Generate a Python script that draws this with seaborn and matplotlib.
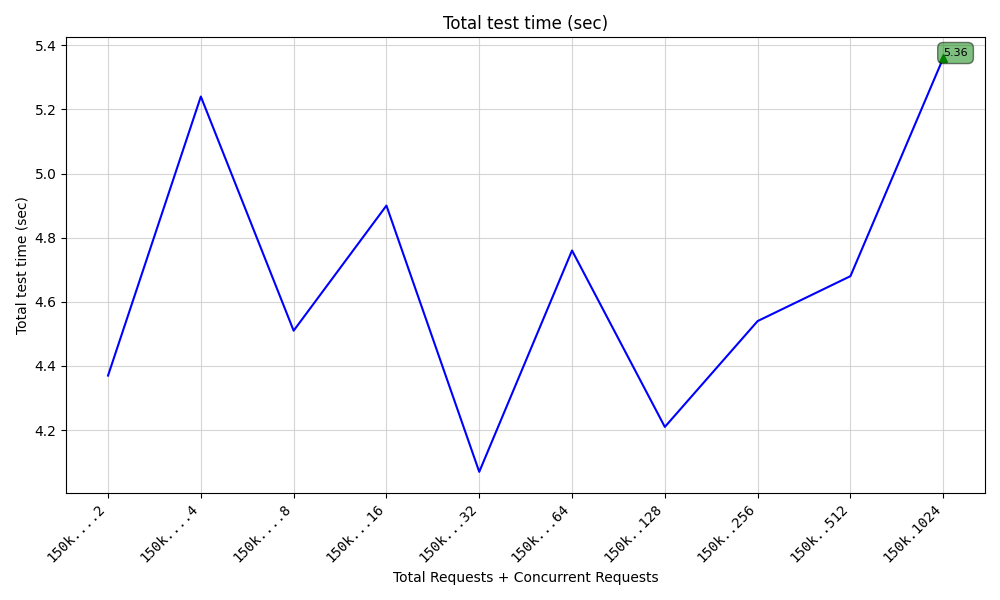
import matplotlib
matplotlib.use('Agg')
import matplotlib.pyplot as plt
import seaborn as sns
import pandas as pd

# 데이터
labels = ['150k....2', '150k....4', '150k....8', '150k...16', '150k...32',
          '150k...64', '150k..128', '150k..256', '150k..512', '150k.1024']
total_time = [4.37, 5.24, 4.51, 4.90, 4.07, 4.76, 4.21, 4.54, 4.68, 5.36]

df = pd.DataFrame({'pos': range(len(labels)), 'time': total_time})

fig, ax = plt.subplots(figsize=(10, 6), dpi=100)

sns.lineplot(data=df, x='pos', y='time', color='blue', ax=ax)

# 최대값 표시
imax = df['time'].idxmax()
xmax = df.loc[imax, 'pos']
ymax = df.loc[imax, 'time']
ax.plot(xmax, ymax, marker='^', color='green')
ax.annotate(f'{ymax:.2f}', xy=(xmax, ymax), ha='left', va='bottom', fontsize=8,
            bbox=dict(boxstyle='round,pad=0.5', fc='green', alpha=0.5))

ax.set_xticks(df['pos'])
ax.set_xticklabels(labels, rotation=45, ha='right', family='DejaVu Sans Mono')
ax.grid(True, color='#cccccc', alpha=0.8)
ax.set_title('Total test time (sec)')
ax.set_xlabel('Total Requests + Concurrent Requests')
ax.set_ylabel('Total test time (sec)')

plt.tight_layout()
plt.savefig('out.png')
